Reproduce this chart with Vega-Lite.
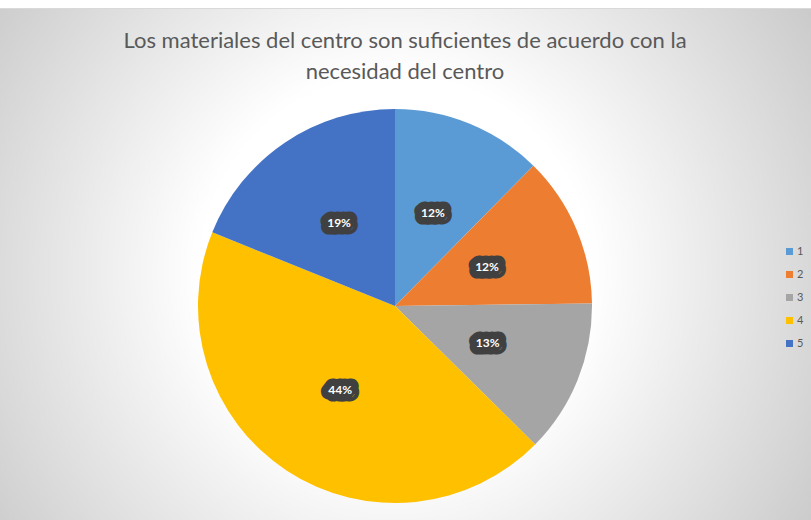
{
  "$schema": "https://vega.github.io/schema/vega-lite/v6.json",
  "width": 832,
  "height": 596,
  "autosize": {"type": "none"},
  "padding": {"left": -21, "top": 8, "right": 0, "bottom": -84},
  "background": "#ffffff",
  "view": {
    "stroke": "#d9d9d9",
    "strokeWidth": 1,
    "fill": {
      "gradient": "radial",
      "x1": 0.5, "y1": 0.457, "r1": 0,
      "x2": 0.5, "y2": 0.457, "r2": 0.6,
      "stops": [
        {"offset": 0, "color": "#ffffff"},
        {"offset": 0.39, "color": "#ffffff"},
        {"offset": 1, "color": "#c9c9c9"}
      ]
    }
  },
  "title": {
    "text": ["Los materiales del centro son suficientes de acuerdo con la", "necesidad del centro"],
    "font": "Lato",
    "fontSize": 22,
    "fontWeight": "normal",
    "color": "#595959",
    "anchor": "middle",
    "frame": "group",
    "baseline": "top",
    "offset": -76,
    "lineHeight": 31,
    "dx": 10
  },
  "data": {
    "values": [
      {"cat": "1", "share": 0.124},
      {"cat": "2", "share": 0.124},
      {"cat": "3", "share": 0.126},
      {"cat": "4", "share": 0.437},
      {"cat": "5", "share": 0.189}
    ]
  },
  "encoding": {
    "theta": {"field": "share", "type": "quantitative", "stack": true},
    "order": {"field": "cat", "type": "ordinal"}
  },
  "layer": [
    {
      "mark": {"type": "arc", "outerRadius": 197},
      "encoding": {
        "color": {
          "field": "cat",
          "type": "nominal",
          "scale": {"domain": ["1", "2", "3", "4", "5"], "range": ["#5B9BD5", "#ED7D31", "#A5A5A5", "#FFC000", "#4472C4"]},
          "legend": {
            "orient": "none",
            "legendX": 805,
            "legendY": 238,
            "title": null,
            "symbolType": "square",
            "symbolSize": 49,
            "symbolStrokeWidth": 0,
            "labelFontSize": 11,
            "labelFont": "Lato",
            "labelColor": "#595959",
            "rowPadding": 11,
            "padding": 0,
            "labelOffset": 2
          }
        }
      }
    },
    {
      "mark": {
        "type": "text",
        "radius": 100,
        "font": "Lato",
        "fontWeight": "bold",
        "fontSize": 12,
        "fill": "#404040",
        "stroke": "#404040",
        "strokeWidth": 15,
        "strokeJoin": "round"
      },
      "encoding": {
        "text": {"field": "share", "type": "quantitative", "format": ".0%"}
      }
    },
    {
      "mark": {
        "type": "text",
        "radius": 100,
        "font": "Lato",
        "fontWeight": "bold",
        "fontSize": 12,
        "fill": "#ffffff"
      },
      "encoding": {
        "text": {"field": "share", "type": "quantitative", "format": ".0%"}
      }
    }
  ]
}
